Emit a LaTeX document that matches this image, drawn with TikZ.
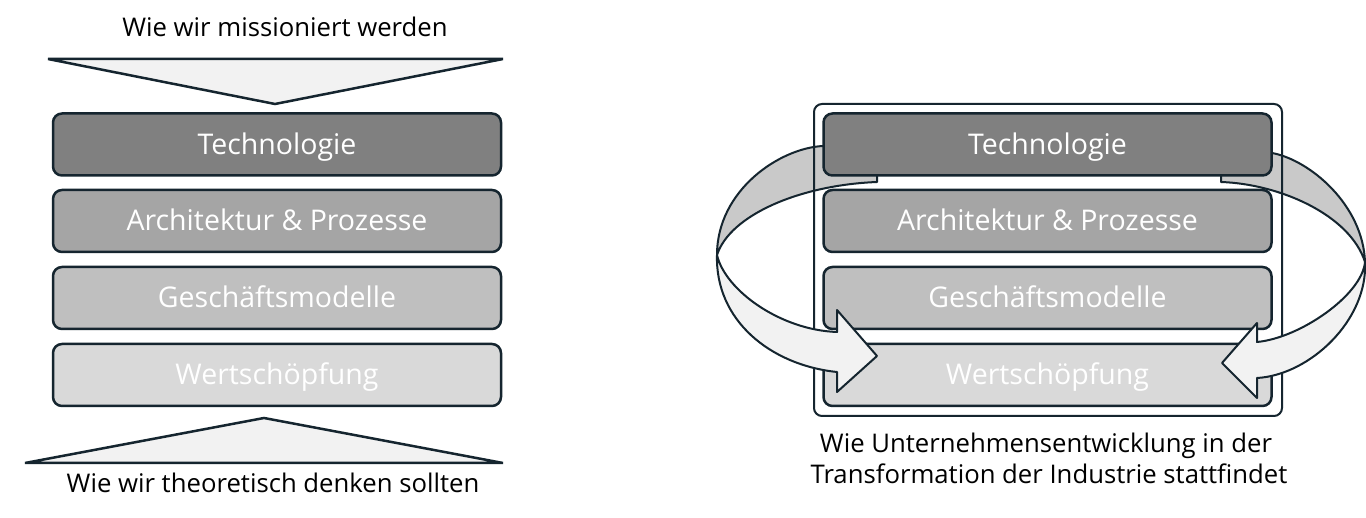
\documentclass[tikz,border=0pt]{standalone}
\usepackage{fontspec}
\setmainfont{Open Sans}
\definecolor{navy}{HTML}{15252F}
\definecolor{cA}{HTML}{808080}
\definecolor{cB}{HTML}{A5A5A5}
\definecolor{cC}{HTML}{BFBFBF}
\definecolor{cD}{HTML}{D9D9D9}
\definecolor{bandUp}{HTML}{C9C9C9}
\definecolor{bandLo}{HTML}{F2F2F2}
\definecolor{triFill}{HTML}{F2F2F2}
\begin{document}
\begin{tikzpicture}[x=1pt,y=-1pt,
  layerbox/.style={draw=navy, line width=2.5pt, rounded corners=9pt, minimum width=448pt, minimum height=62pt, inner sep=0pt, text height=24pt, text depth=4pt, text=white, font=\fontsize{28.5}{32}\selectfont},
  framebox/.style={draw=navy, line width=2pt, rounded corners=8pt, minimum width=468pt, minimum height=312pt, inner sep=0pt},
  band/.style={draw=navy, line width=2pt, line join=round},
  tri/.style={draw=navy, line width=2.5pt, fill=triFill, line join=miter},
  caption/.style={font=\fontsize{25.7}{30}\selectfont, text=black, inner sep=0pt, anchor=base}
]
\useasboundingbox (0,0) rectangle (1366,518);
\fill[white] (0,0) rectangle (1366,518);

% upper (back) parts of the ribbons
\draw[band, fill=bandUp] (877,182) -- (877,150) -- (823,146)
  .. controls (780,148) and (717,190) .. (717,255)
  .. controls (730,215) and (800,185) .. (877,182) -- cycle;
\draw[band, fill=bandUp] (1221,182) -- (1221,150) -- (1272,153)
  .. controls (1310,160) and (1363,205) .. (1365,262)
  .. controls (1350,215) and (1280,184) .. (1221,182) -- cycle;

% frame
\node[framebox] (frame) at (1048,260) {};

% left stack
\node[layerbox, fill=cA] (L1) at (277,144.5) {Technologie};
\node[layerbox, fill=cB] (L2) at (277,221) {Architektur \& Prozesse};
\node[layerbox, fill=cC] (L3) at (277,298) {Geschäftsmodelle};
\node[layerbox, fill=cD] (L4) at (277,375) {Wertschöpfung};

% right stack
\node[layerbox, fill=cA] (R1) at (1047.5,144.5) {Technologie};
\node[layerbox, fill=cB] (R2) at (1047.5,221) {Architektur \& Prozesse};
\node[layerbox, fill=cC] (R3) at (1047.5,298) {Geschäftsmodelle};
\node[layerbox, fill=cD] (R4) at (1047.5,375) {Wertschöpfung};

% lower (front) parts of the ribbons with arrow heads
\draw[band, fill=bandLo] (717,255)
  .. controls (715,320) and (770,365) .. (837,372)
  -- (837,392) -- (877,356) -- (837,310) -- (837,332)
  .. controls (780,330) and (725,290) .. (717,255) -- cycle;
\draw[band, fill=bandLo] (1365,262)
  .. controls (1368,320) and (1310,375) .. (1257,378)
  -- (1257,398) -- (1222,363) -- (1257,323) -- (1257,342)
  .. controls (1300,338) and (1362,295) .. (1365,262) -- cycle;

% triangles
\draw[tri] (48,59) -- (503,59) -- (275,104) -- cycle;
\draw[tri] (25,463) -- (503,463) -- (264,418) -- cycle;

% captions
\node[caption] (tTop) at (285,37) {Wie wir missioniert werden};
\node[caption] (tBot) at (273,493) {Wie wir theoretisch denken sollten};
\node[caption] (tR1) at (1046,453) {Wie Unternehmensentwicklung in der};
\node[caption] (tR2) at (1049,483) {Transformation der Industrie stattfindet};
\end{tikzpicture}
\end{document}
